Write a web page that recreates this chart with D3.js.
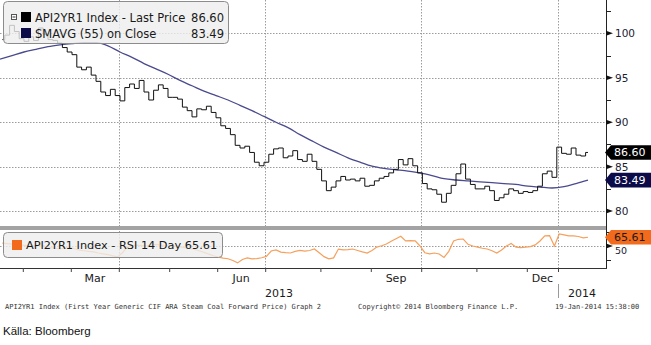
<!DOCTYPE html>
<html><head><meta charset="utf-8">
<script src="https://cdn.jsdelivr.net/npm/d3@7/dist/d3.min.js"></script>
<style>body{margin:0;background:#fff;} svg{display:block;}</style>
</head><body><svg id="c" width="651" height="345"></svg>
<script>
// ---------- data ----------
const monthNames = ["Feb","Mar","Apr","May","Jun","Jul","Aug","Sep","Oct","Nov","Dec","Jan"];
const monthStartDay = [10,30,50,71,91,111,134,155,176,199,220,233]; // trading-day index of 1st day
const labelMonths = ["Mar","Jun","Sep","Dec"];
const gridMonths = ["Apr","Jul","Oct","Jan"];
const yearLabels = ["2013","2014"];
// Last price, every 2nd trading day starting at day 1
const priceValues = [99.3,99.8,100.9,100.2,99.4,99.1,99.6,99.2,100.6,99.9,
 99.3,99.2,98.9,98.4,97.9,97.6,96.2,95.9,96.2,95.3,
 94.6,93.4,93.0,93.7,93.0,92.4,93.9,94.3,93.8,94.7,
 93.4,92.5,93.6,94.2,93.8,92.8,92.8,92.6,91.7,91.3,
 90.6,91.5,91.4,91.8,91.1,90.5,89.6,89.3,88.6,87.4,
 87.1,87.3,86.6,85.5,85.1,85.5,86.4,87.0,87.1,86.0,
 86.2,86.8,85.8,85.6,86.4,85.6,84.7,83.4,82.3,82.7,
 83.4,83.9,83.5,83.6,83.4,83.7,82.8,82.9,83.4,83.7,
 83.9,84.3,84.7,85.8,85.2,85.9,85.1,84.3,83.1,82.5,
 82.4,81.9,81.0,82.0,82.9,84.2,85.3,83.6,83.0,82.5,
 82.5,82.8,82.3,81.2,81.5,81.9,82.5,82.3,82.0,82.2,
 82.1,82.3,82.8,84.2,84.5,83.8,87.2,86.5,86.4,87.1,
 86.3,86.2,86.6];
// SMAVG(55), every 5th trading day starting at day 0
const smaValues = [97.1,97.5,97.9,98.2,98.5,98.7,98.85,98.95,98.95,98.6,
 97.9,97.3,96.6,96.0,95.4,94.7,94.1,93.5,93.0,92.5,
 91.9,91.3,90.65,90.0,89.4,88.6,87.9,87.2,86.6,86.0,
 85.5,85.05,84.8,84.65,84.5,84.3,84.0,83.65,83.5,83.4,
 83.3,83.2,83.1,83.0,82.8,82.7,82.6,82.75,83.1,83.49];
// RSI 14 day, every 2nd trading day starting at day 1
const rsiValues = [55,54.3,53.5,52.5,51.5,50.5,50.3,51.2,51.8,49,
 47,46,45,46.5,48,45,42.5,41.5,40.3,39.5,
 37.5,36,34.5,32.5,30.5,38,48,50.5,51.5,50.8,
 50,51.5,53,51.5,50,50,50,48.5,47,45.5,
 44,41.5,38.5,35.5,32.5,30,28.5,27.3,24,19.8,
 26,28.6,27,27.5,29,31.5,41,43,39,38,
 37.5,40.5,42,41,42,44.6,38,31,27,28.8,
 44.5,43,43.5,44.6,42,39.5,37.5,42,48,50.5,
 53.5,58.5,63,67.5,59,59.5,59,50,38,36,
 37.5,35.7,29.5,40.5,58.9,62,62.5,53,50,48,
 46,44.6,41.5,37.5,43,50,54.5,48,47,48,
 49,52,58.9,68,68.5,50,71.4,70,68,68,
 67,64.5,65.61];
const priceTicks = [80,85,90,95,100];
const priceMinor = [82.5,87.5,92.5,97.5,102.5];
const rsiTicks = [50];
const rsiMinor = [25,75];
const lastPrice = 86.60, lastSma = 83.49, lastRsi = 65.61;
const legendPrice = "API2YR1 Index - Last Price", legendSma = "SMAVG (55) on Close";
const legendRsi = "API2YR1 Index - RSI 14 Day";
const footerLeft = "API2YR1 Index (First Year Generic CIF ARA Steam Coal Forward Price) Graph 2";
const footerMid = "Copyright\u00A9 2014 Bloomberg Finance L.P.";
const footerRight = "19-Jan-2014 15:38:00";
const sourceText = "K\u00E4lla: Bloomberg";

// ---------- layout ----------
const W = 606;
const svg = d3.select("#c");
const x = d3.scaleLinear().domain([0, 252.5]).range([0, W]);
const y = d3.scaleLinear().domain([78.1, 103.75]).range([228, 0]);
const yR = d3.scaleLinear().domain([10, 80]).range([268.4, 229.2]);
const priceData = priceValues.map((v,i)=>({d:1+2*i, v}));
const smaData = smaValues.map((v,i)=>({d:5*i, v}));
const rsiData = rsiValues.map((v,i)=>({d:1+2*i, v}));
const bound = d => x(d - 0.5);

const grid = svg.append("g").attr("stroke","#9c9c9c").attr("stroke-dasharray","1.5,1.5").attr("stroke-width",1);
priceTicks.forEach(t => grid.append("line").attr("x1",0).attr("x2",W).attr("y1",Math.round(y(t))+0.5).attr("y2",Math.round(y(t))+0.5));
rsiTicks.forEach(t => grid.append("line").attr("x1",0).attr("x2",W).attr("y1",Math.round(yR(t))+0.5).attr("y2",Math.round(yR(t))+0.5));
monthNames.forEach((m,i)=>{ if(gridMonths.includes(m)){ const gx=Math.round(bound(monthStartDay[i]))+0.5;
  grid.append("line").attr("x1",gx).attr("x2",gx).attr("y1",0).attr("y2",268);} });

// lines
svg.append("path").datum(smaData).attr("fill","none").attr("stroke","#4a4a8e").attr("stroke-width",1.3)
  .attr("d", d3.line().x(d=>x(d.d)).y(d=>y(d.v)).curve(d3.curveMonotoneX));
svg.append("path").datum(priceData).attr("fill","none").attr("stroke","#111").attr("stroke-width",1)
  .attr("d", d3.line().x(d=>x(d.d)).y(d=>y(d.v)).curve(d3.curveStep));
svg.append("path").datum(rsiData).attr("fill","none").attr("stroke","#f5a05c").attr("stroke-width",1.2)
  .attr("d", d3.line().x(d=>x(d.d)).y(d=>yR(d.v)));

// separator band
svg.append("rect").attr("x",0).attr("y",226).attr("width",W+1).attr("height",4).attr("fill","#a3a3a3");

// legends
const lg = svg.append("g");
lg.append("rect").attr("x",3.5).attr("y",1.5).attr("width",225).attr("height",42).attr("rx",4)
  .attr("fill","#eeeeee").attr("fill-opacity",0.8).attr("stroke","#8c8c8c");
lg.append("rect").attr("x",11.5).attr("y",14.5).attr("width",5).attr("height",5).attr("fill","#fff").attr("stroke","#555");
lg.append("line").attr("x1",12.5).attr("x2",15.5).attr("y1",17).attr("y2",17).attr("stroke","#333");
lg.append("rect").attr("x",21).attr("y",12).attr("width",10).attr("height",10).attr("fill","#000");
lg.append("rect").attr("x",21).attr("y",28).attr("width",10).attr("height",10).attr("fill","#0b0b4a");
const lt = lg.append("g").attr("font-family","DejaVu Sans").attr("font-size","11.5px").attr("fill","#1a1a1a");
lt.append("text").attr("x",35).attr("y",21.5).text(legendPrice);
lt.append("text").attr("x",224).attr("y",21.5).attr("text-anchor","end").text(lastPrice.toFixed(2));
lt.append("text").attr("x",35).attr("y",37.5).text(legendSma);
lt.append("text").attr("x",224).attr("y",37.5).attr("text-anchor","end").text(lastSma.toFixed(2));

lg.append("rect").attr("x",3.5).attr("y",232.5).attr("width",219).attr("height",25).attr("rx",4)
  .attr("fill","#eeeeee").attr("fill-opacity",0.8).attr("stroke","#8c8c8c");
lg.append("rect").attr("x",12).attr("y",240).attr("width",10).attr("height",10).attr("fill","#f26a1b");
lg.append("text").attr("x",26).attr("y",249).attr("font-family","DejaVu Sans").attr("font-size","11.3px")
  .attr("fill","#1a1a1a").text(legendRsi + " " + lastRsi.toFixed(2));

// right axis
svg.append("line").attr("x1",W+0.5).attr("x2",W+0.5).attr("y1",0).attr("y2",268).attr("stroke","#222");
const ax = svg.append("g").attr("transform",`translate(${W},0)`);
const axisP = d3.axisRight(y).tickValues(priceTicks).tickSize(0).tickPadding(9).tickFormat(d3.format("d"));
ax.call(axisP); ax.select(".domain").remove();
ax.selectAll("text").attr("font-family","DejaVu Sans").attr("font-size","10.5px").attr("fill","#1b2233");
const tri = (g, ys) => ys.forEach(v => g.append("path").attr("d",`M${W},${v-2.5}L${W+7},${v}L${W},${v+2.5}Z`).attr("fill","#111"));
tri(svg, priceTicks.map(t=>y(t)));
priceMinor.forEach(t => svg.append("line").attr("x1",W).attr("x2",W+5).attr("y1",Math.round(y(t))+0.5).attr("y2",Math.round(y(t))+0.5).attr("stroke","#222"));
tri(svg, rsiTicks.map(t=>yR(t)));
rsiMinor.forEach(t => svg.append("line").attr("x1",W).attr("x2",W+5).attr("y1",Math.round(yR(t))+0.5).attr("y2",Math.round(yR(t))+0.5).attr("stroke","#222"));
rsiTicks.forEach(t => svg.append("text").attr("x",W+9).attr("y",yR(t)+8).attr("font-family","DejaVu Sans")
  .attr("font-size","9.5px").attr("fill","#1b2233").text(t));

// value tags
function tag(v, cy, fill, color){
  const h=7.3;
  svg.append("path").attr("d",`M${W-1},${cy}L${W+5},${cy-h}L651,${cy-h}L651,${cy+h}L${W+5},${cy+h}Z`).attr("fill",fill);
  svg.append("text").attr("x",W+8).attr("y",cy+4).attr("font-family","DejaVu Sans").attr("font-size","11px")
    .attr("fill",color).text(v.toFixed(2));
}
tag(lastPrice, y(lastPrice), "#000", "#fff");
tag(lastSma, y(lastSma), "#0b0b4a", "#fff");
tag(lastRsi, yR(lastRsi), "#f26a1b", "#1a1a1a");

// bottom axis
svg.append("line").attr("x1",0).attr("x2",W+1).attr("y1",268.5).attr("y2",268.5).attr("stroke","#333");
const bx = svg.append("g").attr("transform","translate(0,268)");
bx.call(d3.axisBottom(x).tickValues(monthStartDay.map(d=>d-0.5)).tickSize(4).tickFormat(""));
bx.select(".domain").remove();
bx.selectAll("line").attr("stroke","#444");
const tx = svg.append("g").attr("font-family","DejaVu Sans").attr("font-size","11px").attr("fill","#1a1a1a").attr("text-anchor","middle");
monthNames.forEach((m,i)=>{ if(labelMonths.includes(m)){
  const a = bound(monthStartDay[i]), b = bound(monthStartDay[i+1]);
  tx.append("text").attr("x",(a+b)/2).attr("y",281.5).text(m);} });
const yb = bound(monthStartDay[monthNames.indexOf("Jan")]);
tx.append("text").attr("x",yb/2).attr("y",296.5).text(yearLabels[0]);
tx.append("text").attr("x",(yb+W)/2).attr("y",296.5).text(yearLabels[1]);
svg.append("line").attr("x1",Math.round(yb)+0.5).attr("x2",Math.round(yb)+0.5).attr("y1",284).attr("y2",298).attr("stroke","#9a9a9a");

// footer
const ft = svg.append("g").attr("font-family","DejaVu Sans Mono").attr("font-size","7px").attr("fill","#333");
ft.append("text").attr("x",5).attr("y",309).text(footerLeft);
ft.append("text").attr("x",358).attr("y",309).text(footerMid);
ft.append("text").attr("x",555).attr("y",309).text(footerRight);
svg.append("text").attr("x",3).attr("y",334.5).attr("font-family","Liberation Sans").attr("font-size","11.5px")
  .attr("fill","#111").text(sourceText);
</script></body></html>
